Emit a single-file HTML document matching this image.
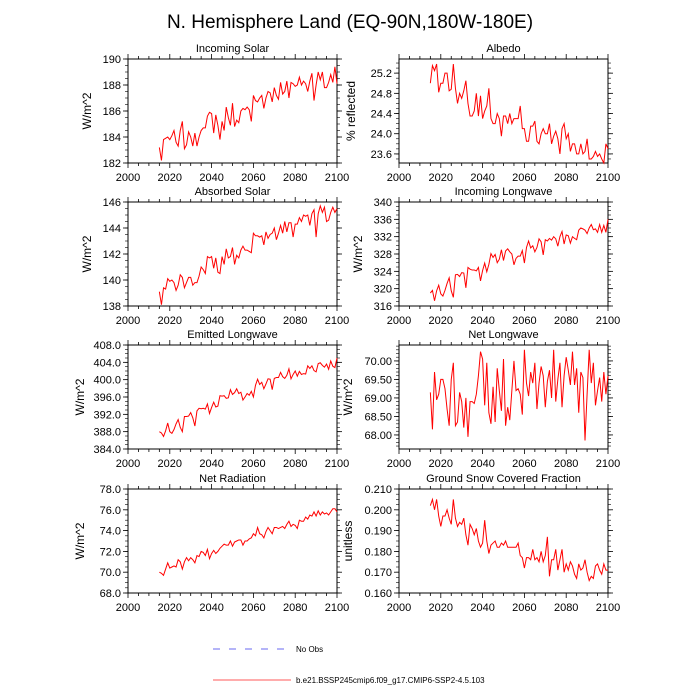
<!DOCTYPE html>
<html><head><meta charset="utf-8"><style>
body{margin:0;background:#fff}
svg{display:block;font-family:"Liberation Sans",sans-serif}
</style></head><body>
<svg id="c" width="700" height="700">
<text x="350" y="28" text-anchor="middle" font-size="19">N. Hemisphere Land (EQ-90N,180W-180E)</text>
<line x1="213" y1="649" x2="289" y2="649" stroke="#3a3aee" stroke-width="0.8" stroke-dasharray="7,9"/>
<text x="296" y="652" font-size="8">No Obs</text>
<line x1="213" y1="680" x2="291" y2="680" stroke="#ff2020" stroke-width="0.8"/>
<text x="296" y="683" font-size="8">b.e21.BSSP245cmip6.f09_g17.CMIP6-SSP2-4.5.103</text>
</svg>
<script>
const startYear = 2015;
const xTicks = [2000, 2020, 2040, 2060, 2080, 2100];
const incomingSolar = [183.2,182.2,183.8,183.9,184.0,183.8,184.1,184.5,183.6,183.3,184.5,185.2,183.1,183.4,184.4,184.0,183.3,184.3,183.3,184.0,184.5,184.7,184.7,185.6,185.9,185.8,184.3,185.7,184.9,183.8,185.2,184.5,186.3,185.5,184.9,186.6,184.8,185.3,185.1,186.0,186.2,186.1,186.3,186.1,185.2,187.2,186.8,186.7,187.0,187.2,186.2,187.0,187.5,187.4,186.7,187.8,187.2,186.9,188.2,187.3,187.5,188.3,187.0,188.2,188.1,187.9,188.0,188.6,188.0,188.3,188.1,187.5,188.3,188.9,186.8,188.0,189.0,188.4,189.0,187.8,187.8,188.2,188.8,188.2,189.4,188.1];
const albedo = [25.0,25.35,25.25,25.38,24.82,25.0,25.0,25.2,25.2,24.85,24.88,25.38,24.9,24.6,24.8,24.7,24.85,25.05,24.6,24.35,24.35,24.45,24.8,24.35,24.75,24.3,24.45,24.55,24.9,24.3,24.2,24.2,24.4,24.3,23.95,24.35,24.35,24.2,24.4,24.2,24.3,24.3,24.3,24.55,24.1,24.1,23.85,23.85,24.15,24.15,24.25,23.85,23.8,24.0,24.1,24.0,24.0,24.2,23.8,23.95,24.05,23.9,23.6,24.1,24.2,23.9,24.0,23.65,23.8,23.8,23.6,23.6,23.8,23.6,23.65,23.9,23.5,23.5,23.55,23.65,23.55,23.6,23.5,23.42,23.8,23.7];
const absorbedSolar = [139.1,138.1,139.4,139.3,140.1,139.9,140.0,139.8,139.2,139.6,140.4,140.2,139.4,139.8,140.2,140.2,139.6,139.8,139.8,140.3,141.0,140.8,140.5,141.8,141.7,141.8,140.9,141.7,140.6,140.5,141.8,141.2,142.4,141.7,141.8,142.5,141.2,141.9,141.7,142.3,142.6,142.3,142.3,142.2,142.1,143.6,143.4,143.4,143.3,143.4,142.7,143.7,143.2,143.5,143.6,144.0,143.1,143.6,144.2,143.6,144.5,143.7,144.4,144.4,143.3,144.3,144.3,144.8,144.5,145.0,144.9,145.0,144.2,145.1,145.4,143.3,145.1,145.7,145.2,145.6,144.5,144.6,145.2,145.6,145.2,145.5];
const incomingLW = [319.0,319.6,317.2,319.5,320.8,318.8,318.3,319.6,321.2,322.5,319.5,318.0,323.2,323.3,322.8,323.7,323.6,320.2,324.9,324.5,324.3,324.3,324.1,324.9,321.8,324.2,325.9,323.9,325.6,328.1,327.2,327.9,326.0,326.8,329.0,326.5,328.7,329.2,328.5,328.0,325.5,327.0,327.5,327.5,328.8,325.9,329.5,331.0,329.4,329.9,328.5,329.5,331.5,330.8,327.8,331.3,331.0,331.6,331.2,332.0,331.5,329.8,332.0,333.2,330.3,332.4,332.2,330.5,332.0,331.6,331.3,333.5,334.0,333.8,333.5,332.7,334.0,334.8,333.6,333.8,333.0,334.8,333.0,334.6,333.0,336.0];
const emittedLW = [388.0,387.7,386.9,388.2,390.0,388.0,387.6,388.5,389.8,390.8,389.0,388.0,391.5,391.5,391.6,392.4,391.2,389.3,392.8,393.4,393.3,393.4,393.2,394.4,392.2,393.6,394.8,393.7,393.9,396.3,396.2,396.3,395.7,395.8,397.7,396.6,397.0,397.9,396.8,397.1,395.3,396.0,396.8,396.4,397.3,396.0,398.7,400.1,398.9,399.4,397.9,399.0,400.2,400.1,397.7,400.3,400.5,400.5,401.7,400.7,400.3,401.0,402.5,400.2,401.2,402.0,400.8,401.9,401.2,401.4,401.3,403.2,402.6,403.2,402.1,401.8,403.7,403.9,403.3,402.9,403.6,402.4,404.3,403.1,402.8,405.0];
const netLW = [69.15,68.15,69.7,68.95,69.1,69.5,69.5,69.25,68.7,68.25,69.5,69.95,68.25,68.35,69.15,68.9,68.2,69.0,67.95,68.9,68.9,68.85,69.1,69.6,70.25,70.05,68.8,69.95,68.6,68.3,69.3,68.35,69.8,69.2,68.65,70.05,68.25,68.75,68.4,69.2,70.0,69.2,69.25,69.1,68.55,70.3,69.4,69.05,69.7,69.4,69.95,68.7,69.4,69.85,69.6,68.75,69.45,69.75,69.0,70.3,68.9,69.5,69.95,68.75,69.6,70.1,69.75,69.35,70.25,69.35,69.8,68.6,69.7,69.55,67.85,69.1,70.3,69.4,69.95,68.8,69.2,69.55,68.9,69.7,69.1,69.6];
const netRadiation = [70.0,69.9,69.7,70.3,70.9,70.4,70.5,70.6,70.5,71.2,71.0,70.3,71.0,71.4,71.1,71.4,71.2,70.9,71.6,71.5,72.0,71.9,71.6,72.2,71.3,71.8,72.1,71.8,72.0,72.3,72.5,72.7,72.6,72.6,73.0,72.5,72.9,73.0,73.1,73.1,72.6,73.0,73.0,73.2,73.3,73.7,73.5,74.3,73.7,73.6,73.3,73.9,74.3,74.0,73.7,74.3,74.3,74.2,74.3,74.4,74.2,74.6,74.9,74.4,74.6,74.5,74.2,75.0,74.9,74.9,75.3,75.1,75.5,75.4,75.8,75.4,75.9,75.5,75.8,75.6,75.7,75.5,75.8,76.1,76.1,75.8];
const snowFraction = [.202,.205,.200,.205,.197,.192,.197,.197,.200,.196,.193,.205,.196,.192,.194,.193,.196,.188,.183,.193,.191,.188,.191,.185,.182,.184,.195,.185,.179,.183,.184,.185,.182,.182,.184,.183,.185,.182,.182,.182,.182,.182,.184,.178,.177,.172,.177,.177,.176,.181,.176,.177,.175,.180,.175,.178,.187,.168,.176,.176,.181,.171,.176,.181,.170,.174,.171,.175,.173,.169,.167,.174,.171,.172,.176,.170,.166,.168,.167,.173,.174,.171,.169,.174,.171,.171];
const isTicks = [182,184,186,188,190];
const albTicks = [23.6,24.0,24.4,24.8,25.2];
const asTicks = [138,140,142,144,146];
const ilwTicks = [316,320,324,328,332,336,340];
const elwTicks = [384,388,392,396,400,404,408];
const nlwTicks = [68,68.5,69,69.5,70];
const nrTicks = [68,70,72,74,76,78];
const snowTicks = [0.16,0.17,0.18,0.19,0.2,0.21];

const NS='http://www.w3.org/2000/svg';
const svg=document.getElementById('c');
function mk(tag,attrs,parent){const e=document.createElementNS(NS,tag);for(const k in attrs)e.setAttribute(k,attrs[k]);(parent||svg).appendChild(e);return e;}
const panels=[
 {t:'Incoming Solar',yl:'W/m^2',d:incomingSolar,tk:isTicks,min:182,max:190,dec:0,minor:0.5,x:128,y:59,n:'incoming-solar'},
 {t:'Albedo',yl:'% reflected',d:albedo,tk:albTicks,min:23.42,max:25.48,dec:1,minor:0.1,x:399,y:59,n:'albedo'},
 {t:'Absorbed Solar',yl:'W/m^2',d:absorbedSolar,tk:asTicks,min:138,max:146,dec:0,minor:0.5,x:128,y:202,n:'absorbed-solar'},
 {t:'Incoming Longwave',yl:'W/m^2',d:incomingLW,tk:ilwTicks,min:316,max:340,dec:0,minor:1,x:399,y:202,n:'incoming-longwave'},
 {t:'Emitted Longwave',yl:'W/m^2',d:emittedLW,tk:elwTicks,min:384,max:408,dec:1,minor:1,x:128,y:345,n:'emitted-longwave'},
 {t:'Net Longwave',yl:'W/m^2',d:netLW,tk:nlwTicks,min:67.62,max:70.43,dec:2,minor:0.1,x:399,y:345,n:'net-longwave'},
 {t:'Net Radiation',yl:'W/m^2',d:netRadiation,tk:nrTicks,min:68,max:78,dec:1,minor:0.5,x:128,y:489,n:'net-radiation'},
 {t:'Ground Snow Covered Fraction',yl:'unitless',d:snowFraction,tk:snowTicks,min:0.16,max:0.21,dec:3,minor:0.0025,x:399,y:489,n:'snow-fraction'}
];
const W=209,H=104;
panels.forEach(p=>{
 const g=mk('g',{});
 
 
 const sx=v=>p.x+(v-2000)/100*W;
 const sy=v=>p.y+H-(v-p.min)/(p.max-p.min)*H;
 for(let yr=2000;yr<=2100;yr+=5){const X=sx(yr);const maj=(yr%20===0);
  mk('line',{x1:X,y1:p.y+H,x2:X,y2:p.y+H+(maj?5:3),stroke:'#000','stroke-width':0.8},g);
  mk('line',{x1:X,y1:p.y,x2:X,y2:p.y-(maj?5:3),stroke:'#000','stroke-width':0.8},g);}
 xTicks.forEach(yr=>{const t=mk('text',{x:sx(yr),y:p.y+H+18,'text-anchor':'middle','font-size':11},g);t.textContent=yr;});
 const m0=Math.ceil(p.min/p.minor-1e-6);
 for(let k=m0;k*p.minor<=p.max+1e-9;k++){const Y=sy(k*p.minor);
  mk('line',{x1:p.x,y1:Y,x2:p.x-3,y2:Y,stroke:'#000','stroke-width':0.6},g);
  mk('line',{x1:p.x+W,y1:Y,x2:p.x+W+3,y2:Y,stroke:'#000','stroke-width':0.6},g);}
 p.tk.forEach(v=>{const Y=sy(v);
  mk('line',{x1:p.x,y1:Y,x2:p.x-5,y2:Y,stroke:'#000','stroke-width':0.8},g);
  mk('line',{x1:p.x+W,y1:Y,x2:p.x+W+5,y2:Y,stroke:'#000','stroke-width':0.8},g);
  const t=mk('text',{x:p.x-7,y:Y+4,'text-anchor':'end','font-size':11},g);t.textContent=v.toFixed(p.dec);});
 mk('rect',{x:p.x,y:p.y,width:W,height:H,fill:'none',stroke:'#000','stroke-width':1},g);
 const tt=mk('text',{x:p.x+W/2,y:p.y-7,'text-anchor':'middle','font-size':11},g);tt.textContent=p.t;
 
 
 const lx=p.x-(p.dec>=2?47:(p.dec==1?44:37));
 const yl=mk('text',{x:lx,y:p.y+H/2,'text-anchor':'middle','font-size':12,transform:`rotate(-90 ${lx} ${p.y+H/2})`},g);yl.textContent=p.yl;
 
 
 const pts=p.d.map((v,i)=>sx(startYear+i).toFixed(2)+','+sy(v).toFixed(2)).join(' ');
 const pl=mk('polyline',{points:pts,fill:'none',stroke:'#ff0000','stroke-width':1},g);
 
 
});
</script>
</body></html>
